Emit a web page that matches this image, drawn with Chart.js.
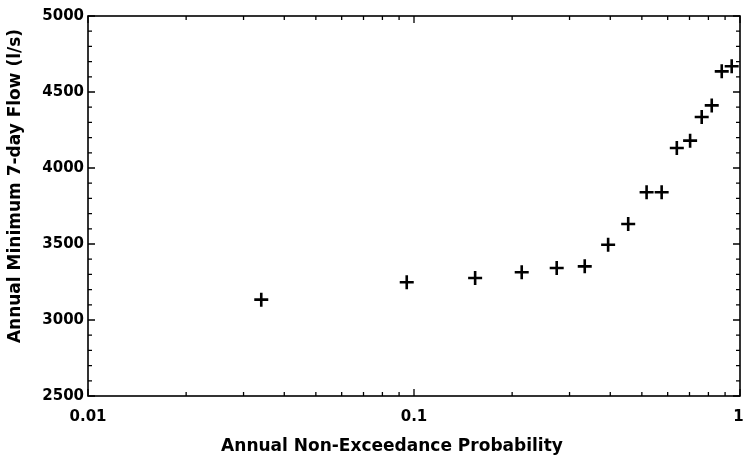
<!DOCTYPE html>
<html>
<head>
<meta charset="utf-8">
<script src="https://cdn.jsdelivr.net/npm/chart.js@4/dist/chart.umd.min.js"></script>
<style>
  html, body { margin: 0; padding: 0; background: #fff; }
  #wrap { width: 743px; height: 455px; position: relative; }
</style>
</head>
<body>
<div id="wrap"><canvas id="c" width="743" height="455"></canvas></div>
<script>
// Annual minimum 7-day flows plotted against their non-exceedance probability
const probabilities = [0.034, 0.095, 0.154, 0.214, 0.274, 0.334, 0.394, 0.454,
                       0.517, 0.575, 0.640, 0.703, 0.763, 0.819, 0.879, 0.943];
const flows = [3134, 3248, 3276, 3314, 3342, 3353, 3495, 3632,
               3840, 3840, 4132, 4180, 4336, 4412, 4636, 4669];

const xTickLabels = ['0.01', '0.1', '1'];
const yTickLabels = ['2500', '3000', '3500', '4000', '4500', '5000'];
const xTitle = 'Annual Non-Exceedance Probability';
const yTitle = 'Annual Minimum 7-day Flow (l/s)';

const FONT = '"DejaVu Sans", "Liberation Sans", sans-serif';
const INK = '#000';

// Frame around the plot area with tick marks pointing inwards on all four sides,
// plus the two axis titles.
const framePlugin = {
  id: 'frame',
  afterDraw(chart) {
    const { ctx, chartArea: a, scales } = chart;
    const xs = scales.x, ys = scales.y;
    ctx.save();
    ctx.strokeStyle = INK;
    ctx.lineWidth = 1.6;
    ctx.strokeRect(a.left, a.top, a.right - a.left, a.bottom - a.top);

    ctx.lineWidth = 1.3;
    const major = 7, minor = 4;
    // x ticks: log decades with minor ticks at 2..9
    const xMin = xs.min, xMax = xs.max;
    for (let d = xMin; d < xMax * 1.0001; d *= 10) {
      for (let m = 1; m <= 9; m++) {
        const v = d * m;
        if (v > xMax * 1.0001) break;
        const px = xs.getPixelForValue(v);
        const len = m === 1 ? major : minor;
        ctx.beginPath();
        ctx.moveTo(px, a.bottom); ctx.lineTo(px, a.bottom - len);
        ctx.moveTo(px, a.top); ctx.lineTo(px, a.top + len);
        ctx.stroke();
      }
    }
    // y ticks: majors every 500, minors every 100
    for (let v = ys.min; v <= ys.max + 0.01; v += 100) {
      const py = ys.getPixelForValue(v);
      const len = (v % 500 === 0) ? major : minor;
      ctx.beginPath();
      ctx.moveTo(a.left, py); ctx.lineTo(a.left + len, py);
      ctx.moveTo(a.right, py); ctx.lineTo(a.right - len, py);
      ctx.stroke();
    }

    // axis titles
    ctx.fillStyle = INK;
    ctx.font = 'bold 17px ' + FONT;
    ctx.textAlign = 'center';
    ctx.textBaseline = 'alphabetic';
    ctx.fillText(xTitle, (a.left + a.right) / 2 - 22, 451);
    ctx.save();
    ctx.translate(20, (a.top + a.bottom) / 2 - 20);
    ctx.rotate(-Math.PI / 2);
    ctx.fillText(yTitle, 0, 0);
    ctx.restore();
    ctx.restore();
  }
};

const points = probabilities.map((p, i) => ({ x: p, y: flows[i] }));

new Chart(document.getElementById('c'), {
  type: 'scatter',
  data: {
    datasets: [{
      data: points,
      pointStyle: 'cross',
      pointRadius: 7,
      pointHoverRadius: 7,
      borderColor: INK,
      backgroundColor: INK,
      pointBorderWidth: 2.6,
      showLine: false,
      clip: false
    }]
  },
  options: {
    responsive: false,
    animation: false,
    events: [],
    layout: { autoPadding: false, padding: { left: 0, right: 3, top: 16, bottom: 0 } },
    plugins: { legend: { display: false }, tooltip: { enabled: false } },
    scales: {
      x: {
        type: 'logarithmic',
        min: 0.01,
        max: 1,
        grid: { display: false, drawTicks: false },
        border: { display: false },
        ticks: {
          autoSkip: false,
          maxRotation: 0,
          padding: 12,
          color: INK,
          font: { family: FONT, size: 15, weight: 'bold' },
          callback: (v) => {
            const s = String(Number(v));
            if (!xTickLabels.includes(s)) return '';
            // keep the last label inside the canvas edge
            return s === '1' ? '1\u2009' : s;
          }
        },
        afterFit: (s) => { s.height = 59; s.paddingLeft = 0; s.paddingRight = 0; }
      },
      y: {
        type: 'linear',
        min: 2500,
        max: 5000,
        grid: { display: false, drawTicks: false },
        border: { display: false },
        ticks: {
          stepSize: 500,
          padding: 4,
          color: INK,
          font: { family: FONT, size: 15, weight: 'bold' },
          callback: (v) => {
            const s = String(v);
            return yTickLabels.includes(s) ? s : '';
          }
        },
        afterFit: (s) => { s.width = 88; s.paddingTop = 0; s.paddingBottom = 0; }
      }
    }
  },
  plugins: [framePlugin]
});
</script>
</body>
</html>
